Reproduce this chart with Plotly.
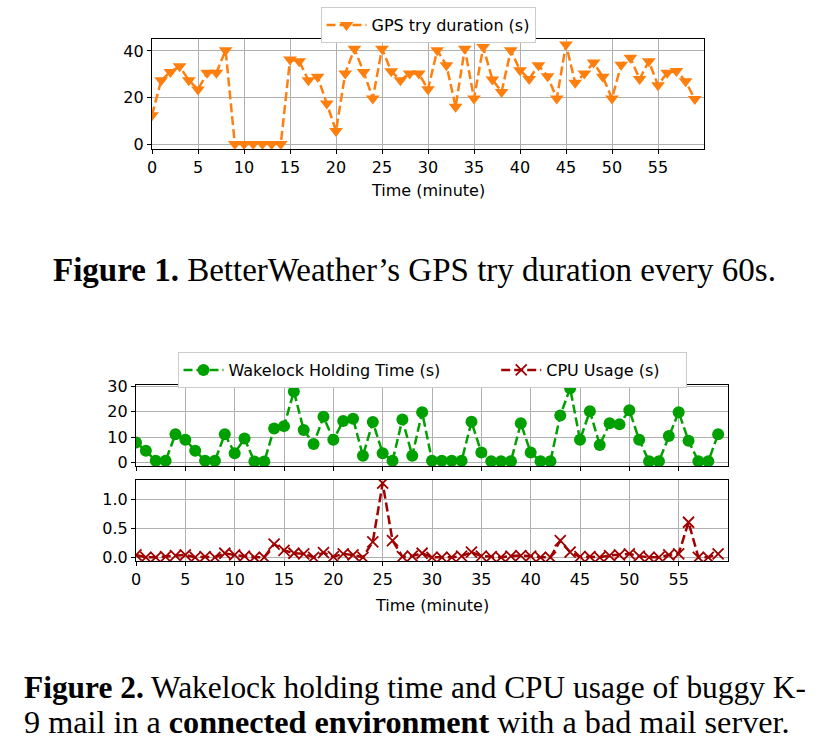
import plotly.graph_objects as go

minutes = list(range(60))

gps_duration = [12.4, 27.4, 31.0, 33.4, 27.4, 23.4, 30.6, 30.6, 40.3, 0,
                0, 0, 0, 0, 0, 36.3, 35.6, 27.4, 28.9, 17.4,
                5.6, 30.3, 41.0, 31.0, 19.6, 41.0, 31.3, 27.4, 30.3, 30.3,
                23.5, 40.3, 33.9, 16.0, 41.0, 19.6, 41.7, 27.7, 22.4, 40.3,
                31.7, 27.9, 33.9, 29.1, 19.6, 42.8, 26.3, 30.3, 35.0, 28.9,
                19.6, 34.1, 37.1, 27.9, 35.6, 25.3, 30.6, 31.4, 27.0, 19.3]

wakelock = [7.8, 4.6, 0.6, 0.6, 11.1, 8.9, 4.6, 0.6, 0.6, 11.1,
            3.6, 9.4, 0.3, 0.3, 13.4, 14.3, 28.0, 12.8, 7.2, 18.0,
            8.9, 16.3, 17.2, 2.6, 15.9, 3.6, 0.6, 16.9, 2.6, 19.8,
            0.6, 0.6, 0.6, 0.6, 16.0, 3.9, 0.4, 0.4, 0.4, 15.4,
            3.9, 0.4, 0.4, 18.5, 29.3, 8.9, 20.2, 6.8, 15.4, 15.0,
            20.6, 8.9, 0.4, 0.4, 10.4, 19.8, 8.5, 0.4, 0.4, 11.1]

cpu_usage = [0.04, 0.0, 0.0, 0.01, 0.03, 0.04, 0.0, 0.01, 0.0, 0.07,
             0.04, 0.02, 0.0, 0.0, 0.23, 0.12, 0.07, 0.06, 0.0, 0.08,
             0.01, 0.06, 0.04, 0.0, 0.27, 1.29, 0.29, 0.01, 0.02, 0.07,
             0.0, 0.0, 0.0, 0.02, 0.09, 0.02, 0.01, 0.0, 0.02, 0.03,
             0.02, 0.0, 0.0, 0.29, 0.09, 0.01, 0.01, 0.0, 0.03, 0.04,
             0.06, 0.02, 0.0, 0.0, 0.04, 0.06, 0.61, 0.0, 0.0, 0.06]

x_ticks = list(range(0, 60, 5))

W, H = 823, 750
def px(x):
    return x / W
def py(y):
    return 1 - y / H

ORANGE = "#ff7f0e"
GREEN = "#00a000"
DARKRED = "#a00000"
FS = 16
TICKFONT = dict(family="DejaVu Sans", size=FS, color="black")
NB = "\u00a0"

fig = go.Figure()

fig.add_trace(go.Scatter(
    x=minutes, y=gps_duration, mode="lines+markers", name="GPS try duration (s)",
    line=dict(color=ORANGE, width=2.5, dash="9px,4px"),
    marker=dict(symbol="triangle-down", size=12, color=ORANGE),
    xaxis="x", yaxis="y", legend="legend"))

fig.add_trace(go.Scatter(
    x=minutes, y=wakelock, mode="lines+markers",
    name="Wakelock Holding Time (s)" + NB * 10,
    line=dict(color=GREEN, width=2.5, dash="9px,4px"),
    marker=dict(symbol="circle", size=12, color=GREEN),
    xaxis="x2", yaxis="y2", legend="legend2"))

fig.add_trace(go.Scatter(
    x=minutes, y=cpu_usage, mode="lines+markers", name="CPU Usage (s)" + NB * 4,
    line=dict(color=DARKRED, width=2.5, dash="9px,4px"),
    marker=dict(symbol="x-thin", size=11, color=DARKRED, line=dict(width=1.8, color=DARKRED)),
    xaxis="x3", yaxis="y3", legend="legend2"))

def xax(domain, anchor, showlabels):
    return dict(domain=domain, anchor=anchor, range=[0, 60], tickvals=x_ticks,
                showticklabels=showlabels, ticks="outside", ticklen=4, tickcolor="black",
                showgrid=True, gridcolor="#b0b0b0", gridwidth=1, zeroline=False,
                showline=True, linecolor="black", linewidth=1.2, mirror=True,
                tickfont=TICKFONT, automargin=False)

def yax(domain, anchor, rng, tickvals, fmt=None):
    d = dict(domain=domain, anchor=anchor, range=rng, tickvals=tickvals,
             ticks="outside", ticklen=4, tickcolor="black",
             showgrid=True, gridcolor="#b0b0b0", gridwidth=1, zeroline=False,
             showline=True, linecolor="black", linewidth=1.2, mirror=True,
             tickfont=TICKFONT, automargin=False)
    if fmt:
        d["tickformat"] = fmt
    return d

LEGFONT = dict(family="DejaVu Sans", size=FS, color="black")

fig.update_layout(
    width=W, height=H, margin=dict(l=0, r=0, t=0, b=0),
    paper_bgcolor="white", plot_bgcolor="white",
    font=dict(family="DejaVu Sans", size=FS, color="black"),
    xaxis=xax([px(152), px(704)], "y", True),
    yaxis=yax([py(149), py(39)], "x", [-2.15, 45.15], [0, 20, 40]),
    xaxis2=xax([px(136), px(728)], "y2", False),
    yaxis2=yax([py(466), py(384.5)], "x2", [-1.47, 30.77], [0, 10, 20, 30]),
    xaxis3=xax([px(136), px(728)], "y3", True),
    yaxis3=yax([py(561), py(479.5)], "x3", [-0.065, 1.355], [0.0, 0.5, 1.0], ".1f"),
    legend=dict(x=px(428), y=py(7), xanchor="center", yanchor="top",
                orientation="h", bordercolor="#cccccc", borderwidth=1,
                itemwidth=40, bgcolor="white", font=LEGFONT),
    legend2=dict(x=px(432), y=py(352), xanchor="center", yanchor="top",
                 orientation="h", bordercolor="#cccccc", borderwidth=1,
                 itemwidth=40, bgcolor="white", font=LEGFONT),
    showlegend=True,
)

annotations = [
    dict(text="Time (minute)", x=px(428), y=py(190), xref="paper", yref="paper",
         showarrow=False, xanchor="center", yanchor="middle",
         font=dict(family="DejaVu Sans", size=FS, color="black")),
    dict(text="Time (minute)", x=px(432), y=py(605), xref="paper", yref="paper",
         showarrow=False, xanchor="center", yanchor="middle",
         font=dict(family="DejaVu Sans", size=FS, color="black")),
    dict(text="<b>Figure 1.</b> BetterWeather’s GPS try duration every 60s.",
         x=px(414), y=py(270), xref="paper", yref="paper",
         showarrow=False, xanchor="center", yanchor="middle",
         font=dict(family="Liberation Serif", size=33, color="black")),
    dict(text="<b>Figure 2.</b> Wakelock holding time and CPU usage of buggy K-",
         x=px(22), y=py(687), xref="paper", yref="paper",
         showarrow=False, xanchor="left", yanchor="middle",
         font=dict(family="Liberation Serif", size=31.4, color="black")),
    dict(text="9 mail in a <b>connected environment</b> with a bad mail server.",
         x=px(22), y=py(722), xref="paper", yref="paper",
         showarrow=False, xanchor="left", yanchor="middle",
         font=dict(family="Liberation Serif", size=32.2, color="black")),
]
fig.update_layout(annotations=annotations)

fig.write_html("out.html")
